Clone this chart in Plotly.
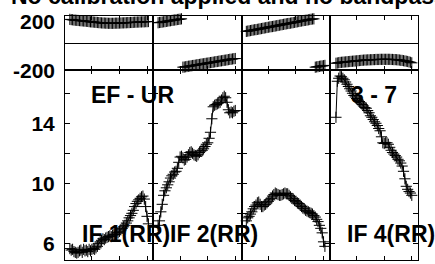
import plotly.graph_objects as go

W, H = 435, 264

title_text = "No calibration applied and no bandpass applied"
baseline_label = "EF - UR"
antenna_label = "3 - 7"
if_labels = ["IF 1(RR)", "IF 2(RR)", "", "IF 4(RR)"]

# ---- data (channel, amplitude, phase) per IF ----
ch1 = list(range(4, 62))
amp1 = [5.65, 5.55, 5.6, 5.45, 5.4, 5.35, 5.4, 5.5, 5.55, 5.4,
        5.6, 5.5, 5.55, 5.45, 5.6, 5.5, 5.6, 5.65, 5.6, 5.7,
        5.8, 6.0, 6.1, 6.2, 6.3, 6.25, 6.35, 6.4, 6.45, 6.5,
        6.45, 6.55, 6.6, 6.6, 6.7, 6.7, 6.8, 6.9, 7.0, 7.1,
        7.2, 7.35, 7.5, 7.7, 7.85, 8.0, 8.2, 8.45, 8.65, 8.8,
        8.9, 9.0, 9.1, 9.15, 8.95, 8.45, 7.8, 7.3]
ph1 = [175, 173, 172, 170, 169, 168, 167, 166, 165, 164,
       163, 162, 161, 160, 158, 157, 156, 155, 154, 153,
       152, 151, 150, 149, 148, 148, 147, 147, 146, 146,
       146, 146, 146, 147, 147, 147, 148, 148, 149, 149,
       150, 150, 151, 151, 152, 152, 153, 154, 154, 155,
       155, 156, 156, 157, 157, 158, 158, 159]

ch2 = list(range(4, 61))
amp2 = [7.2, 7.5, 8.1, 8.6, 9.2, 9.5, 9.7, 9.9, 10.1, 10.35,
        10.5, 10.6, 10.75, 10.8, 11.0, 11.4, 11.75, 11.8, 11.7, 11.55,
        11.6, 11.75, 11.9, 12.05, 12.1, 12.0, 11.9, 11.85, 11.8, 11.9,
        12.05, 12.15, 12.2, 12.3, 12.45, 12.6, 12.7, 13.0, 13.4, 14.3,
        15.1, 15.2, 15.25, 15.3, 15.35, 15.4, 15.55, 15.7, 15.8, 15.7,
        15.4, 14.9, 14.7, 14.75, 14.7, 14.8, 14.85]
ph2 = [150, 152, 153, 155, 157, 158, 160, 162, 164, 165,
       167, 169, 170, 172, 174, 175, 177, 179, -179, -178,
       -176, -174, -172, -171, -169, -167, -166, -164, -162, -160,
       -159, -157, -155, -154, -152, -150, -149, -147, -145, -144,
       -142, -140, -138, -137, -135, -133, -132, -130, -128, -127,
       -125, -123, -121, -120, -118, -116, -115]

ch3 = list(range(4, 62))
amp3 = [7.5, 7.7, 7.8, 7.95, 8.1, 8.3, 8.45, 8.55, 8.7, 8.75,
        8.6, 8.45, 8.45, 8.55, 8.6, 8.7, 8.8, 8.9, 9.0, 9.15,
        9.25, 9.35, 9.3, 9.25, 9.2, 9.2, 9.25, 9.3, 9.35, 9.3,
        9.3, 9.2, 9.1, 9.0, 8.95, 8.85, 8.8, 8.7, 8.65, 8.55,
        8.45, 8.35, 8.3, 8.2, 8.15, 8.1, 8.05, 8.0, 7.95, 7.85,
        7.75, 7.6, 7.45, 7.2, 7.0, 6.7, 6.1, 5.8]
ph3 = [86, 88, 90, 92, 94, 96, 98, 99, 101, 103,
       105, 107, 109, 111, 113, 115, 117, 119, 121, 122,
       124, 126, 128, 130, 132, 134, 136, 138, 140, 142,
       144, 145, 147, 149, 151, 153, 155, 157, 159, 161,
       163, 165, 167, 168, 170, 172, 174, 176, 178, 179,
       -179, -177, -175, -173, -171, -170, -168, -166]

ch4 = list(range(5, 61))
amp4 = [14.4, 16.8, 17.0, 17.15, 17.1, 17.0, 16.9, 16.75, 16.6, 16.45,
        16.3, 16.15, 16.0, 15.85, 15.75, 15.65, 15.55, 15.45, 15.35, 15.25,
        15.15, 15.05, 15.0, 14.85, 14.7, 14.5, 14.4, 14.25, 14.1, 14.0,
        13.85, 13.65, 13.5, 13.1, 12.7, 12.65, 12.7, 12.7, 12.6, 12.4,
        12.2, 12.05, 11.95, 11.85, 11.75, 11.6, 11.5, 11.35, 11.15, 10.8,
        10.3, 9.8, 9.6, 9.45, 9.35, 9.2]
ph4 = [-150, -148, -146, -144, -143, -142, -141, -140, -139, -138,
       -137, -136, -135, -134, -133, -132, -131, -130, -129, -128,
       -127, -126, -126, -125, -125, -124, -124, -123, -123, -122,
       -122, -122, -121, -121, -121, -121, -121, -121, -121, -121,
       -122, -122, -123, -123, -124, -125, -126, -128, -129, -131,
       -133, -135, -137, -140, -143, -147]

channels = [ch1, ch2, ch3, ch4]
amps = [amp1, amp2, amp3, amp4]
phases = [ph1, ph2, ph3, ph4]

amp_ticks = [6, 8, 10, 12, 14, 16]
amp_ticktext = ["6", "", "10", "", "14", ""]
amp_range = [4.89, 17.55]
phase_ticks = [-200, 0, 200]
phase_range = [-200, 200]
phase_labels = [("200", 200), ("-200", -200)]
chan_ticks = [20, 40, 60]
chan_range = [0.5, 64.5]

# ---- geometry in pixels ----
LEFT, RIGHT, TOP, MID, BOTTOM = 65, 418, 16, 70, 260
COLW = (RIGHT - LEFT) / 4.0


def fx(px):
    return px / W


def fy(py):
    return 1 - py / H


FONT = "Liberation Sans, Arial, Helvetica, sans-serif"

fig = go.Figure()
layout = dict(
    width=W, height=H, autosize=False,
    margin=dict(l=0, r=0, t=0, b=0, pad=0),
    paper_bgcolor="white", plot_bgcolor="white",
    showlegend=False,
)

for c in range(4):
    x0 = LEFT + c * COLW
    x1 = x0 + COLW
    for r in range(2):
        i = r * 4 + c + 1
        xa = "xaxis" if i == 1 else f"xaxis{i}"
        ya = "yaxis" if i == 1 else f"yaxis{i}"
        xref = "x" if i == 1 else f"x{i}"
        yref = "y" if i == 1 else f"y{i}"
        layout[xa] = dict(
            domain=[fx(x0), fx(x1)], anchor=yref, range=chan_range,
            tickvals=chan_ticks, ticks="inside", ticklen=4, tickcolor="black",
            showticklabels=False, showline=True, linecolor="black", linewidth=1,
            mirror="ticks", showgrid=False, zeroline=False,
        )
        if r == 0:
            layout[ya] = dict(
                domain=[fy(MID), fy(TOP)], anchor=xref, range=phase_range,
                tickvals=phase_ticks, ticks="inside", ticklen=4, tickcolor="black",
                showticklabels=False, showline=True, linecolor="black", linewidth=1,
                mirror="ticks", showgrid=False, zeroline=True,
                zerolinecolor="black", zerolinewidth=1,
            )
            fig.add_trace(go.Scatter(
                x=channels[c], y=phases[c], xaxis=xref, yaxis=yref,
                mode="markers", cliponaxis=False,
                marker=dict(symbol="cross-thin-open", size=8, color="black",
                            line=dict(color="black", width=1)),
            ))
        else:
            layout[ya] = dict(
                domain=[fy(BOTTOM), fy(MID)], anchor=xref, range=amp_range,
                tickvals=amp_ticks, ticktext=amp_ticktext, ticks="inside",
                ticklen=5, tickcolor="black", showticklabels=(c == 0),
                tickfont=dict(family=FONT, size=21, color="black", weight="bold"),
                ticklabelstandoff=5,
                showline=True, linecolor="black", linewidth=1,
                mirror="ticks", showgrid=False, zeroline=False,
            )
            fig.add_trace(go.Scatter(
                x=channels[c], y=amps[c], xaxis=xref, yaxis=yref,
                mode="lines+markers", cliponaxis=False,
                line=dict(color="black", width=1),
                marker=dict(symbol="cross-thin-open", size=8, color="black",
                            line=dict(color="black", width=1)),
            ))

ann = []
big = dict(family=FONT, size=23, color="black", weight="bold")
ann.append(dict(text=title_text, xref="paper", yref="paper", x=fx(9), y=fy(-4),
                xanchor="left", yanchor="middle", showarrow=False, font=big))
for txt, val in phase_labels:
    py = TOP + (phase_range[1] - val) / (phase_range[1] - phase_range[0]) * (MID - TOP)
    if val == 200:
        py += 4.5
    ann.append(dict(text=txt, xref="paper", yref="paper", x=fx(57), y=fy(py + 0.5),
                    xanchor="right", yanchor="middle", showarrow=False,
                    font=dict(family=FONT, size=21, color="black", weight="bold")))
ann.append(dict(text=baseline_label, xref="paper", yref="paper", x=fx(89), y=fy(95),
                xanchor="left", yanchor="middle", showarrow=False, font=big))
ann.append(dict(text=antenna_label, xref="paper", yref="paper", x=fx(349), y=fy(95),
                xanchor="left", yanchor="middle", showarrow=False, font=big))
for c, lab in enumerate(if_labels):
    if not lab:
        continue
    ann.append(dict(text=lab, xref="paper", yref="paper", x=fx(LEFT + c * COLW + 15),
                    y=fy(234), xanchor="left", yanchor="middle", showarrow=False,
                    font=big))
layout["annotations"] = ann

fig.update_layout(**layout)
fig.write_html("out.html",
               config={"displayModeBar": False},
               post_script="document.body.style.margin='0';document.body.style.overflow='hidden';")
